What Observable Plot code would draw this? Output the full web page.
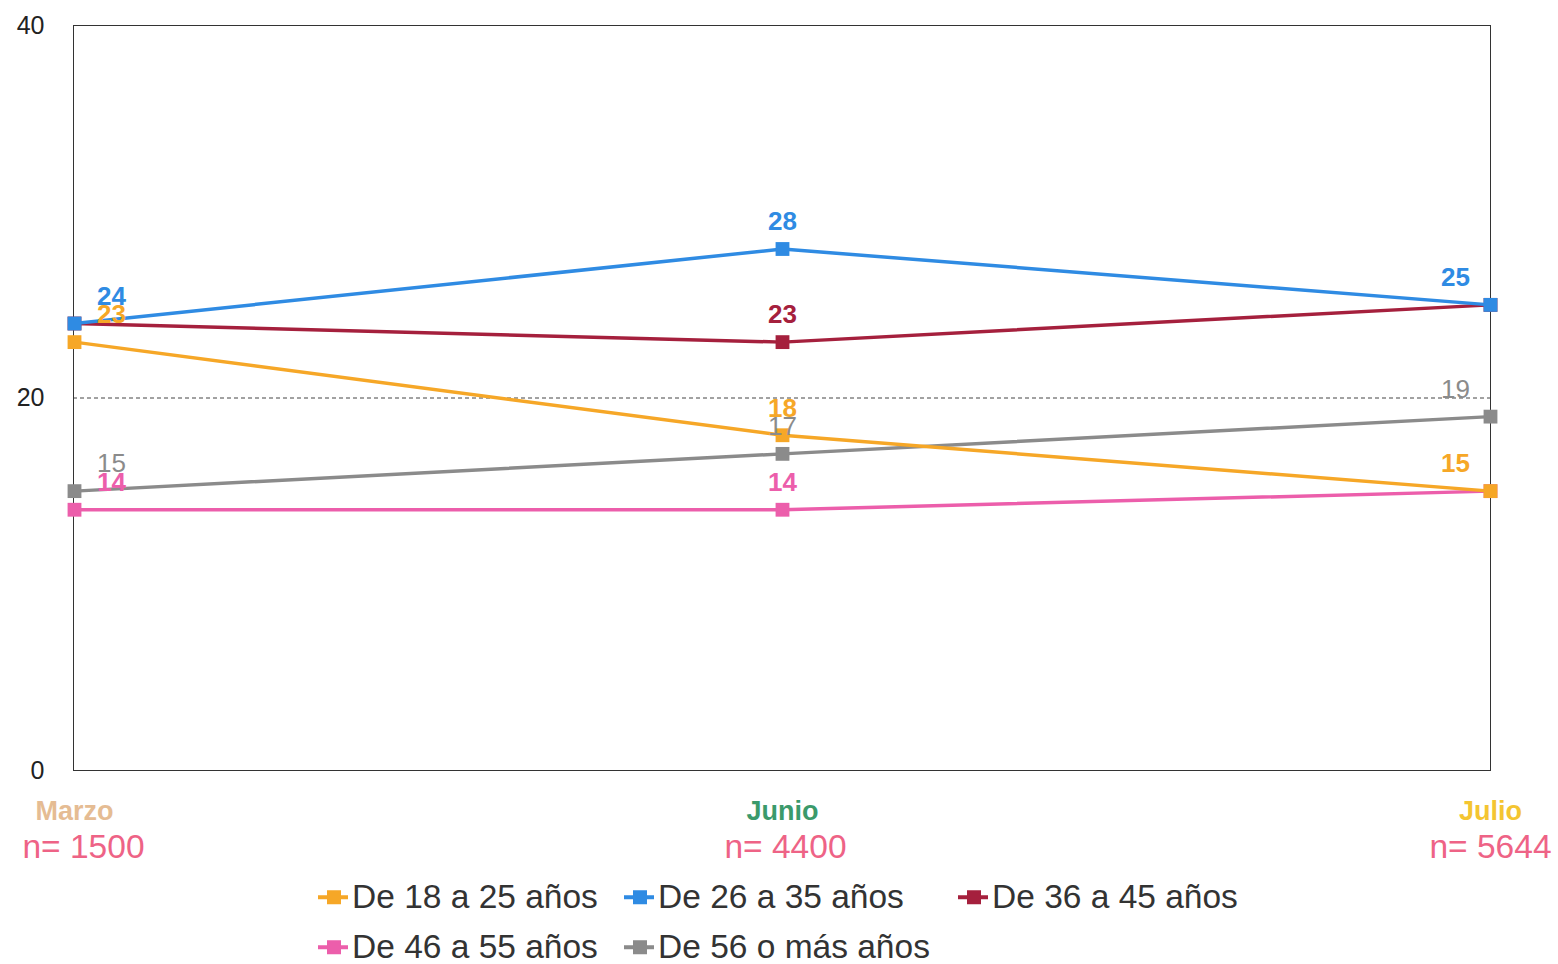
<!DOCTYPE html>
<html><head><meta charset="utf-8">
<script src="https://cdn.jsdelivr.net/npm/d3@7"></script>
<script src="https://cdn.jsdelivr.net/npm/@observablehq/plot@0.6"></script>
<style>
body{margin:0;background:#fff;font-family:"Liberation Sans",Arial,sans-serif;}
#wrap{position:relative;width:1558px;height:964px;overflow:hidden;background:#fff}
#chart svg{display:block}
.leg{position:absolute;display:flex;align-items:center;font-size:33.5px;color:#333;white-space:nowrap;line-height:1;transform:translateY(-50%)}
.sw{position:relative;width:30px;height:4px;margin-right:4px}
.sw i{position:absolute;left:8.5px;top:-5px;width:14px;height:14px}
</style></head><body><div id="wrap"><div id="chart"></div></div>
<script>
const months = ["Marzo", "Junio", "Julio"];
const sampleSizes = ["n= 1500", "n= 4400", "n= 5644"];
const monthColors = ["#E5BC93", "#3B9A6B", "#F4C531"];
const series = ["De 18 a 25 años", "De 26 a 35 años", "De 36 a 45 años", "De 46 a 55 años", "De 56 o más años"];
const seriesColors = ["#F6A727", "#2F8BE3", "#A5203D", "#EC5EAB", "#8B8B8B"];
const v18to25 = [23, 18, 15];
const v26to35 = [24, 28, 25];
const v36to45 = [24, 23, 25];
const v46to55 = [14, 14, 15];
const v56plus = [15, 17, 19];
const yTicks = [0, 20, 40];
const gridValue = [20];
const hiddenLabels = [["De 36 a 45 años", "Marzo"], ["De 36 a 45 años", "Julio"], ["De 46 a 55 años", "Julio"]];

const seriesValues = [v18to25, v26to35, v36to45, v46to55, v56plus];
const rows = series.flatMap((s, i) => months.map((m, j) => ({series: s, month: m, value: seriesValues[i][j]})));
const labelRows = rows.filter(r => !hiddenLabels.some(([s, m]) => s === r.series && m === r.month));

const W = 1558, H = 870;
const marks = [
  Plot.ruleY(gridValue, {stroke: "#444", strokeDasharray: "4,3", strokeWidth: 1}),
  Plot.frame({stroke: "#333", strokeWidth: 1}),
  Plot.axisY({ticks: yTicks, tickSize: 0, tickPadding: 29, fontSize: 25, fill: "#222", label: null})
];
// draw in reverse order so earlier series sit on top
for (const s of [...series].reverse()) {
  const d = rows.filter(r => r.series === s);
  marks.push(Plot.line(d, {x: "month", y: "value", stroke: "series", strokeWidth: 3.5}));
  marks.push(Plot.dot(d, {x: "month", y: "value", fill: "series", symbol: "square", r: 7.8}));
}
const monthDx = [37, 0, -35];
const nDx = [9, 3, 0];
months.forEach((m, j) => {
  const lab = labelRows.filter(r => r.month === m);
  marks.push(Plot.text(lab.filter(r => r.series !== series[4]), {x: "month", y: "value", text: d => String(d.value), fill: "series", dx: monthDx[j], dy: -27, fontSize: 26, fontWeight: "bold", textAnchor: "middle", lineAnchor: "middle"}));
  marks.push(Plot.text(lab.filter(r => r.series === series[4]), {x: "month", y: "value", text: d => String(d.value), fill: "series", dx: monthDx[j], dy: -27, fontSize: 26, textAnchor: "middle", lineAnchor: "middle"}));
  marks.push(Plot.text([m], {x: d => d, text: d => d, frameAnchor: "bottom", dy: 41, fill: monthColors[j], fontSize: 27, fontWeight: "bold", textAnchor: "middle", lineAnchor: "middle"}));
  marks.push(Plot.text([sampleSizes[j]], {x: () => m, text: d => d, frameAnchor: "bottom", dx: nDx[j], dy: 77, fill: "#EE6386", fontSize: 33.5, textAnchor: "middle", lineAnchor: "middle"}));
});

const chart = Plot.plot({
  width: W, height: H,
  marginTop: 25, marginLeft: 73, marginRight: 68, marginBottom: H - 770,
  style: {fontFamily: "'Liberation Sans', Arial, sans-serif", background: "#fff", color: "#222"},
  x: {type: "point", domain: months, padding: 0, axis: null},
  y: {domain: [0, 40], axis: null},
  color: {domain: series, range: seriesColors},
  marks
});
document.getElementById("chart").appendChild(chart);

// legend
const legendPos = [[318, 897], [624, 897], [958, 897], [318, 947], [624, 947]];
const wrap = document.getElementById("wrap");
series.forEach((s, i) => {
  const el = document.createElement("div");
  el.className = "leg";
  el.style.left = legendPos[i][0] + "px";
  el.style.top = legendPos[i][1] + "px";
  const sw = document.createElement("span");
  sw.className = "sw";
  sw.style.background = seriesColors[i];
  const sq = document.createElement("i");
  sq.style.background = seriesColors[i];
  sw.appendChild(sq);
  el.appendChild(sw);
  const t = document.createElement("span");
  t.textContent = s;
  el.appendChild(t);
  wrap.appendChild(el);
});
</script></body></html>
